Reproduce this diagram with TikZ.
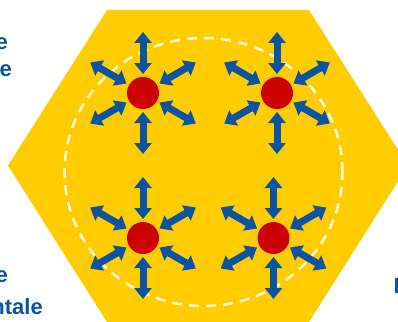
\documentclass[tikz,border=0pt]{standalone}
\usepackage{fontspec}
\setmainfont{Liberation Sans}
\usetikzlibrary{arrows.meta}
\definecolor{hexyellow}{RGB}{255,204,0}
\definecolor{arrowblue}{RGB}{11,84,164}
\definecolor{dotred}{RGB}{204,0,0}

\begin{document}
\begin{tikzpicture}[
	x=1pt, y=-1pt,
	station/.style={ circle, fill=dotred, inner sep=0pt, minimum size=32pt },
	link/.style={ arrowblue, line width=7pt, {Triangle[length=11pt,width=17pt]}-{Triangle[length=11pt,width=17pt]} },
	cuttext/.style={ text=arrowblue, font=\bfseries\fontsize{22}{26}\selectfont, inner sep=0pt }
]

\useasboundingbox (0,0) rectangle (398,321);
\clip (0,0) rectangle (398,321);
\fill[white] (0,0) rectangle (398,321);

% the cell, a stretched hexagon cut by the right edge
\fill[hexyellow] (107,10) -- (309,10) -- (408,165.5) -- (309,322) -- (107,322) -- (8,165.5) -- cycle;
\draw[white, opacity=.85, line width=2.5pt, dash pattern=on 10pt off 7pt]
	(203.5,172) ellipse [x radius=139pt, y radius=134pt];

\node at (143,93) (nw) [station] {};
\node at (277,93) (ne) [station] {};
\node at (143,238) (sw) [station] {};
\node at (273.5,238) (se) [station] {};

% six double arrows round each station
\foreach \s in {nw,ne,sw,se}
	\foreach \a in {30,90,...,330}
		\draw[link] (\s.center) ++(\a:19) -- ++(\a:42);

\node at (8,49) (ea) [cuttext, anchor=base east] {e};
\node at (12,76) (eb) [cuttext, anchor=base east] {e};
\node at (8,282) (ec) [cuttext, anchor=base east] {e};
\node at (43,314) (ntale) [cuttext, anchor=base east] {ntale};
\node at (393.5,293) (ri) [cuttext, anchor=base west] {I};

\end{tikzpicture}
\end{document}
